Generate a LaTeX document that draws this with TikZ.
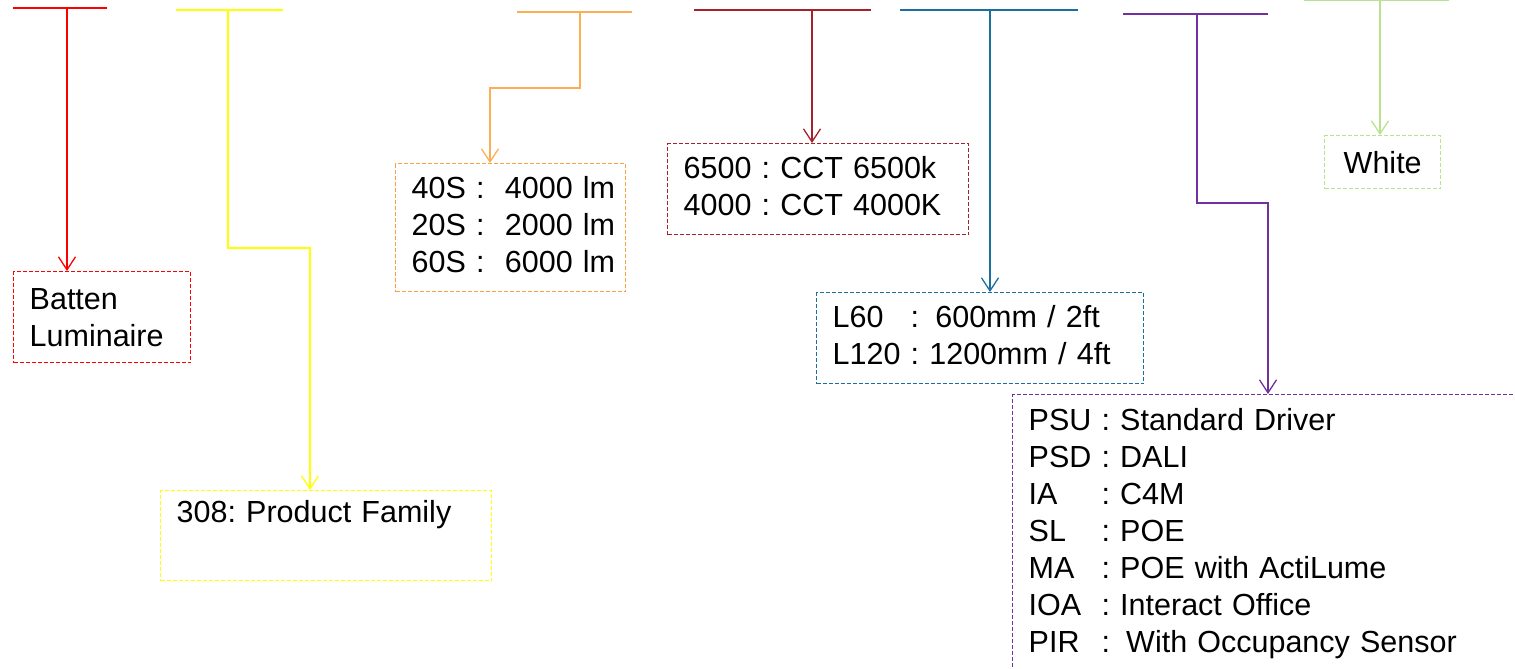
\documentclass[tikz,border=0pt]{standalone}
\usepackage{fontspec}
\setmainfont{Liberation Sans}
\usetikzlibrary{arrows.meta}
\definecolor{cRed}{HTML}{FF0000}
\definecolor{cYel}{HTML}{FFFF00}
\definecolor{cOrg}{HTML}{FCAE55}
\definecolor{cOrgBox}{HTML}{F9A040}
\definecolor{cDred}{HTML}{A3222C}
\definecolor{cBlue}{HTML}{1C6E9C}
\definecolor{cPur}{HTML}{7030A0}
\definecolor{cGrn}{HTML}{B9E290}
\begin{document}
\begin{tikzpicture}[x=1pt,y=-1pt,
  bar/.style={line width=2.6pt},
  arr/.style={line width=1.3pt,-{Straight Barb[length=13pt,width=17pt,line width=1.3pt]}},
  box/.style={draw=#1, line width=1.4pt, dash pattern=on 4pt off 2pt, anchor=north west,
    inner xsep=16pt, inner ysep=0pt, align=left, text=black,
    font=\fontsize{30.5}{37}\selectfont\frenchspacing}]
\useasboundingbox (0,0) rectangle (1515,669);

% boxes
\node[box=cRed, minimum width=177pt, minimum height=91pt, text width=145pt] (b1) at (13,271) {Batten\\Luminaire};
\node[box=cYel, minimum width=331pt, minimum height=90pt, text width=299pt] (b2) at (160,490) {308: Product Family\\\strut};
\node[box=cOrgBox, minimum width=230pt, minimum height=128pt, text width=198pt] (b3) at (395,163)
  {\begin{tabular}{@{}l@{\ :\ \ }l@{}}40S & 4000 lm\\ 20S & 2000 lm\\ 60S & 6000 lm\end{tabular}};
\node[box=cDred, minimum width=301pt, minimum height=91pt, text width=269pt] (b4) at (667,143)
  {\begin{tabular}{@{}l@{\ :\ }l@{}}6500 & CCT 6500k\\ 4000 & CCT 4000K\end{tabular}};
\node[box=cBlue, minimum width=327pt, minimum height=91pt, text width=295pt] (b5) at (816,292)
  {\begin{tabular}{@{}l@{\ :\ }l@{}}L60 & \hspace{6pt}600mm / 2ft\\ L120 & 1200mm / 4ft\end{tabular}};
\node[box=cPur, minimum width=540pt, minimum height=278pt, text width=508pt] (b6) at (1012,394)
  {\begin{tabular}{@{}l@{\ :\ }l@{}}PSU & Standard Driver\\ PSD & DALI\\ IA & C4M\\ SL & POE\\ MA & POE with ActiLume\\ IOA & Interact Office\\ PIR & \hspace{6pt}With Occupancy Sensor\end{tabular}};
\node[box=cGrn, minimum width=116pt, minimum height=53pt, inner xsep=0pt, align=center] (b7) at (1324,135) {White};

% top bars and anchor points
\draw[bar, cRed] (13,8) -- (107,8);
\coordinate (t1) at (67,8);
\draw[bar, cYel] (176,10) -- (283,10);
\coordinate (t2) at (228,10);
\draw[line width=1.6pt, cOrg] (517,12) -- (632,12);
\coordinate (t3) at (580,12);
\draw[bar, cDred] (694,10) -- (871,10);
\coordinate (t4) at (812,10);
\draw[bar, cBlue] (900,10) -- (1078,10);
\coordinate (t5) at (990,10);
\draw[bar, cPur] (1123,14) -- (1268,14);
\coordinate (t6) at (1197,14);
\draw[bar, cGrn] (1304,0) -- (1449,0);
\coordinate (t7) at (1380,0);

% elbow points
\coordinate (e2) at (310,248);
\coordinate (e3) at (490,88);
\coordinate (e6) at (1268,203);

% connectors
\draw[arr, cRed] (t1) -- (t1 |- b1.north);
\draw[arr, cYel] (t2) |- (e2) -- (e2 |- b2.north);
\draw[arr, cOrg] (t3) |- (e3) -- (e3 |- b3.north);
\draw[arr, cDred] (t4) -- (t4 |- b4.north);
\draw[arr, cBlue] (t5) -- (t5 |- b5.north);
\draw[arr, cPur] (t6) |- (e6) -- (e6 |- b6.north);
\draw[arr, cGrn] (t7) -- (t7 |- b7.north);
\end{tikzpicture}
\end{document}
